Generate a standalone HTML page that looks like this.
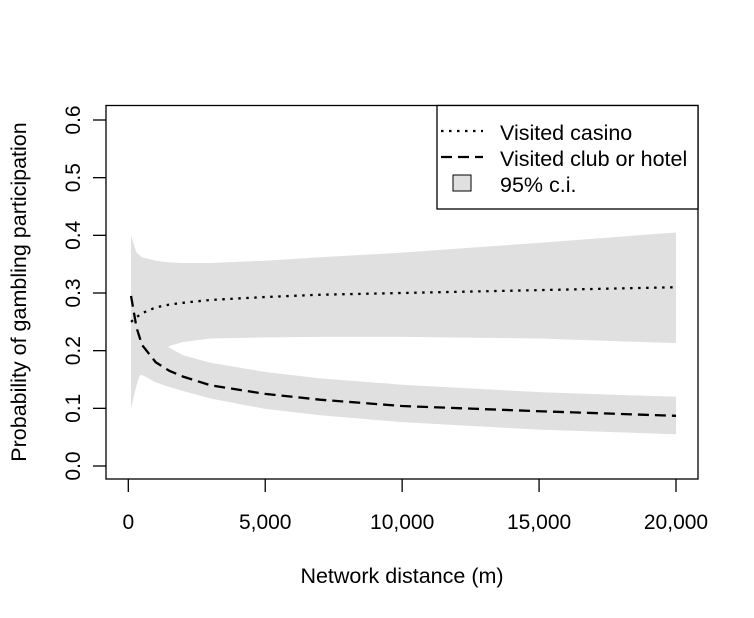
<!DOCTYPE html>
<html><head><meta charset="utf-8"><style>
body{margin:0;background:#fff}
svg text{font-family:"Liberation Sans",Arial,sans-serif;fill:#000}
</style></head><body>
<svg id="c" width="754" height="613"></svg>
<script>
const xs=[100,300,500,1000,1500,2000,3000,5000,7000,10000,15000,20000];
const casinoMean=[0.25,0.258,0.265,0.275,0.28,0.283,0.288,0.293,0.297,0.300,0.305,0.310];
const casinoUp=[0.40,0.37,0.362,0.356,0.353,0.352,0.352,0.356,0.362,0.37,0.387,0.405];
const casinoLo=[0.10,0.14,0.17,0.195,0.208,0.215,0.221,0.223,0.224,0.224,0.221,0.213];
const clubMean=[0.295,0.24,0.21,0.18,0.165,0.155,0.14,0.125,0.115,0.104,0.095,0.087];
const clubUp=[0.40,0.33,0.29,0.23,0.205,0.192,0.179,0.163,0.152,0.141,0.128,0.12];
const clubLo=[0.10,0.155,0.158,0.145,0.137,0.13,0.117,0.099,0.088,0.076,0.063,0.055];
const xTicks=[0,5000,10000,15000,20000];
const xTickLabels=["0","5,000","10,000","15,000","20,000"];
const yTicks=[0,0.1,0.2,0.3,0.4,0.5,0.6];
const yTickLabels=["0.0","0.1","0.2","0.3","0.4","0.5","0.6"];
const X=v=>128.3+v*(676-128.3)/20000;
const Y=v=>466-v*(466-120)/0.6;
const svg=document.getElementById('c');
const NS='http://www.w3.org/2000/svg';
function mk(t,a,p){const e=document.createElementNS(NS,t);for(const k in a)e.setAttribute(k,a[k]);(p||svg).appendChild(e);return e;}
function band(up,lo,name){
 let d='M'+xs.map((x,i)=>X(x)+','+Y(up[i])).join('L')+'L'+xs.slice().reverse().map((x,j)=>{const i=xs.length-1-j;return X(x)+','+Y(lo[i]);}).join('L')+'Z';
 const e=mk('path',{d:d,fill:'#e0e0e0',stroke:'none'});
 
 
}
band(casinoUp,casinoLo,'casino-ci-band');
band(clubUp,clubLo,'club-ci-band');
function line(vals,dash,name){
 const e=mk('polyline',{points:xs.map((x,i)=>X(x)+','+Y(vals[i])).join(' '),fill:'none',stroke:'#000','stroke-width':2.3,'stroke-dasharray':dash});
 
 
}
line(casinoMean,'2.5 5.5','casino-line');
line(clubMean,'11 6','club-line');
const box=mk('rect',{x:106,y:105.5,width:592,height:373.5,fill:'none',stroke:'#000','stroke-width':1.3});


xTicks.forEach((v,i)=>{
 mk('line',{x1:X(v),x2:X(v),y1:479,y2:492,stroke:'#000','stroke-width':1.3});
 const t=mk('text',{x:X(v),y:529,'text-anchor':'middle','font-size':21});
 t.textContent=xTickLabels[i];
 
 
});
yTicks.forEach((v,i)=>{
 mk('line',{x1:93,x2:106,y1:Y(v),y2:Y(v),stroke:'#000','stroke-width':1.3});
 const t=mk('text',{x:0,y:0,'text-anchor':'middle','font-size':21,transform:`translate(80,${Y(v)}) rotate(-90)`});
 t.textContent=yTickLabels[i];
 
 
});
const xt=mk('text',{x:402,y:583,'text-anchor':'middle','font-size':21.5});
xt.textContent='Network distance (m)';


const yt=mk('text',{x:0,y:0,'text-anchor':'middle','font-size':21.5,transform:'translate(26,292) rotate(-90)'});
yt.textContent='Probability of gambling participation';


const lg=mk('g',{});


mk('rect',{x:437,y:105.5,width:261,height:103.5,fill:'#fff',stroke:'#000','stroke-width':1.3},lg);
mk('line',{x1:441,x2:483,y1:131,y2:131,stroke:'#000','stroke-width':2.3,'stroke-dasharray':'2.5 5.5'},lg);
mk('line',{x1:441,x2:483,y1:157,y2:157,stroke:'#000','stroke-width':2.3,'stroke-dasharray':'11 6'},lg);
mk('rect',{x:453,y:175,width:18,height:16,fill:'#e0e0e0',stroke:'#000','stroke-width':1},lg);
[['Visited casino',140],['Visited club or hotel',166],['95% c.i.',192]].forEach(([s,y])=>{
 const t=mk('text',{x:500,y:y,'font-size':21.5},lg);t.textContent=s;
 
 
});
</script>
</body></html>
